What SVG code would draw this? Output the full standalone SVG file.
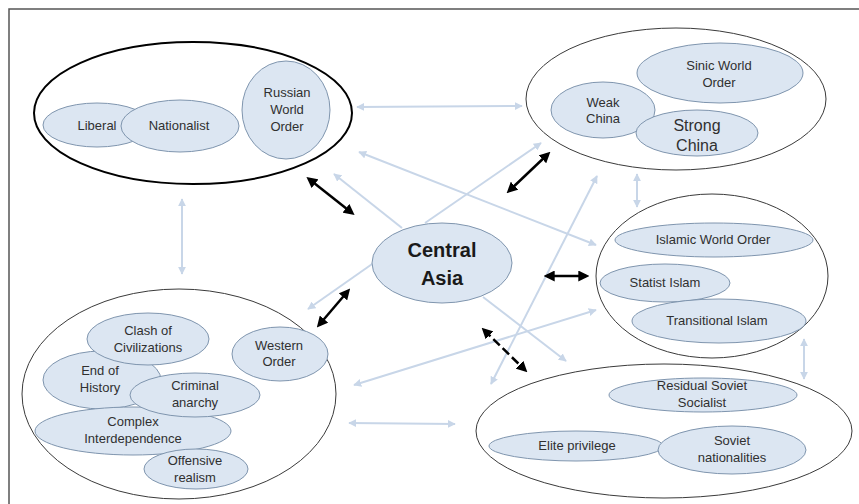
<svg xmlns="http://www.w3.org/2000/svg" width="859" height="504" viewBox="0 0 859 504">
<style>
.bg{fill:#ffffff}
.frame{fill:none;stroke:#555;stroke-width:1.5}
.grp{fill:#ffffff;stroke:#3a3a3a;stroke-width:1}
.grp-thick{fill:#ffffff;stroke:#000;stroke-width:2}
.sub{fill:#dce6f2;stroke:#7f95ae;stroke-width:1}
.t{font-family:"Liberation Sans",Arial,sans-serif;font-size:13px;fill:#303030;text-anchor:middle}
.big{font-size:16px}
.ca{font-family:"Liberation Sans",Arial,sans-serif;font-size:20px;font-weight:bold;fill:#1a1a1a;text-anchor:middle}
.lt{stroke:#c8d6e8;stroke-width:2;fill:none}
.bk{stroke:#000;stroke-width:2.5;fill:none}
.dash{stroke-dasharray:9 4}
</style>
<defs>
<marker id="la" viewBox="0 0 10 10" refX="9" refY="5" markerWidth="8" markerHeight="8" markerUnits="userSpaceOnUse" orient="auto-start-reverse">
<path d="M0,0 L10,5 L0,10 z" fill="#c8d6e8"/>
</marker>
<marker id="ba" viewBox="0 0 10 10" refX="7" refY="5" markerWidth="11" markerHeight="11" markerUnits="userSpaceOnUse" orient="auto-start-reverse">
<path d="M0,0 L10,5 L0,10 z" fill="#000"/>
</marker>
</defs>
<rect class="bg" x="0" y="0" width="859" height="504"/>
<path class="frame" d="M9,504 V9 H859"/>

<g id="connectors">
<line class="lt" x1="357" y1="107" x2="522" y2="106" marker-start="url(#la)" marker-end="url(#la)"/>
<line class="lt" x1="359" y1="152" x2="596" y2="245" marker-start="url(#la)" marker-end="url(#la)"/>
<line class="lt" x1="402" y1="228" x2="334" y2="174" marker-end="url(#la)"/>
<line class="lt" x1="425" y1="223" x2="541" y2="143" marker-end="url(#la)"/>
<line class="lt" x1="375" y1="262" x2="308" y2="309" marker-end="url(#la)"/>
<line class="lt" x1="483" y1="297" x2="566" y2="361" marker-end="url(#la)"/>
<line class="lt" x1="597" y1="176" x2="491" y2="384" marker-start="url(#la)" marker-end="url(#la)"/>
<line class="lt" x1="354" y1="385" x2="596" y2="310" marker-start="url(#la)" marker-end="url(#la)"/>
<line class="lt" x1="349" y1="423" x2="455" y2="424" marker-start="url(#la)" marker-end="url(#la)"/>
<line class="lt" x1="182" y1="199" x2="182" y2="274" marker-start="url(#la)" marker-end="url(#la)"/>
<line class="lt" x1="637" y1="174" x2="637" y2="207" marker-start="url(#la)" marker-end="url(#la)"/>
<line class="lt" x1="804" y1="339" x2="804" y2="379" marker-start="url(#la)" marker-end="url(#la)"/>
<line class="bk" x1="309" y1="179" x2="352" y2="213" marker-start="url(#ba)" marker-end="url(#ba)"/>
<line class="bk" x1="509" y1="191" x2="548" y2="154" marker-start="url(#ba)" marker-end="url(#ba)"/>
<line class="bk" x1="319" y1="325" x2="348" y2="291" marker-start="url(#ba)" marker-end="url(#ba)"/>
<line class="bk" x1="547" y1="276" x2="586" y2="276" marker-start="url(#ba)" marker-end="url(#ba)"/>
<line class="bk dash" x1="484" y1="330" x2="525" y2="370" marker-start="url(#ba)" marker-end="url(#ba)"/>
</g>

<g id="russia">
<ellipse class="grp-thick" cx="193" cy="113" rx="159" ry="71"/>
<g id="liberal"><ellipse class="sub" cx="97" cy="125" rx="54" ry="22"/><text class="t" x="97" y="130">Liberal</text></g>
<g id="nationalist"><ellipse class="sub" cx="180" cy="126" rx="59" ry="26"/><text class="t" x="179" y="130">Nationalist</text></g>
<g id="russian-world-order"><ellipse class="sub" cx="286" cy="110" rx="44" ry="49"/>
<text class="t" x="287" y="97">Russian</text><text class="t" x="287" y="114">World</text><text class="t" x="287" y="131">Order</text></g>
</g>

<g id="china">
<ellipse class="grp" cx="676" cy="99" rx="150" ry="71"/>
<g id="sinic"><ellipse class="sub" cx="720" cy="73" rx="83" ry="30"/><text class="t" x="719" y="70">Sinic World</text><text class="t" x="719" y="87">Order</text></g>
<g id="weak-china"><ellipse class="sub" cx="603" cy="110" rx="52" ry="28"/><text class="t" x="603" y="107">Weak</text><text class="t" x="603" y="123">China</text></g>
<g id="strong-china"><ellipse class="sub" cx="697" cy="133" rx="61" ry="23"/><text class="t big" x="697" y="131">Strong</text><text class="t big" x="697" y="151">China</text></g>
</g>

<g id="islam">
<ellipse class="grp" cx="712" cy="276" rx="116" ry="82"/>
<g id="islamic-world-order"><ellipse class="sub" cx="714" cy="240" rx="99" ry="17"/><text class="t" x="713" y="244">Islamic World Order</text></g>
<g id="statist-islam"><ellipse class="sub" cx="665" cy="283" rx="65" ry="19"/><text class="t" x="665" y="287">Statist Islam</text></g>
<g id="transitional-islam"><ellipse class="sub" cx="719" cy="321" rx="87" ry="22"/><text class="t" x="717" y="325">Transitional Islam</text></g>
</g>

<g id="soviet">
<ellipse class="grp" cx="664" cy="431" rx="188" ry="67"/>
<g id="residual"><ellipse class="sub" cx="703" cy="395" rx="94" ry="17"/><text class="t" x="702" y="390">Residual Soviet</text><text class="t" x="702" y="407">Socialist</text></g>
<g id="elite"><ellipse class="sub" cx="576" cy="446" rx="87" ry="15"/><text class="t" x="577" y="450">Elite privilege</text></g>
<g id="nationalities"><ellipse class="sub" cx="732" cy="450" rx="74" ry="24"/><text class="t" x="732" y="445">Soviet</text><text class="t" x="732" y="462">nationalities</text></g>
</g>

<g id="west">
<ellipse class="grp" cx="179" cy="394" rx="157" ry="105"/>
<g id="end-of-history"><ellipse class="sub" cx="102" cy="380" rx="59" ry="29"/></g>
<g id="clash"><ellipse class="sub" cx="148" cy="339" rx="61" ry="26"/><text class="t" x="148" y="335">Clash of</text><text class="t" x="148" y="352">Civilizations</text></g>
<g id="end-of-history-label"><text class="t" x="100" y="375">End of</text><text class="t" x="100" y="392">History</text></g>
<g id="complex"><ellipse class="sub" cx="133" cy="431" rx="98" ry="24"/><text class="t" x="133" y="426">Complex</text><text class="t" x="133" y="443">Interdependence</text></g>
<g id="criminal"><ellipse class="sub" cx="195" cy="395" rx="65" ry="22"/><text class="t" x="195" y="390">Criminal</text><text class="t" x="195" y="407">anarchy</text></g>
<g id="offensive"><ellipse class="sub" cx="196" cy="469" rx="52" ry="20"/><text class="t" x="195" y="465">Offensive</text><text class="t" x="195" y="482">realism</text></g>
<g id="western-order"><ellipse class="sub" cx="280" cy="354" rx="48" ry="27"/><text class="t" x="279" y="350">Western</text><text class="t" x="279" y="366">Order</text></g>
</g>

<g id="central-asia">
<ellipse class="sub" cx="442" cy="263" rx="70" ry="40"/>
<text class="ca" x="442" y="257">Central</text>
<text class="ca" x="442" y="285">Asia</text>
</g>
</svg>
